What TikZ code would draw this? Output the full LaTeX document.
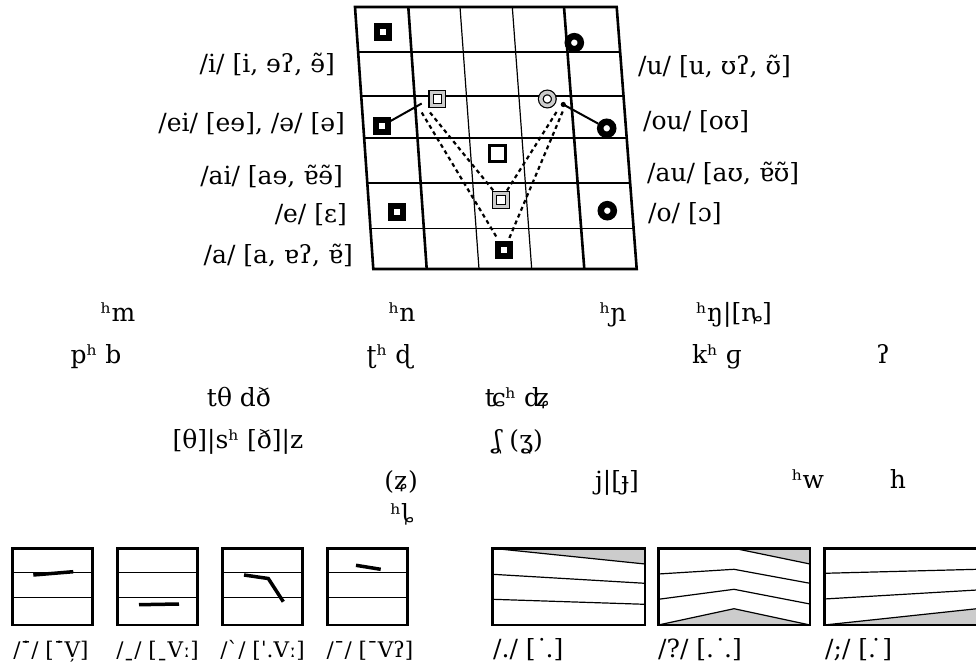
\documentclass[tikz,border=0pt]{standalone}
\usepackage{fontspec}
\setmainfont{DejaVu Serif}
\usetikzlibrary{calc}
\usetikzlibrary{positioning}

\definecolor{greyfill}{gray}{0.8}

\begin{document}
\begin{tikzpicture}[x=1pt, y=-1pt,
    thickline/.style={line width=2.6pt},
    thinline/.style={line width=1.2pt},
    blacksq/.style={rectangle, draw=black, line width=6pt, fill=white, minimum size=12pt, inner sep=0pt},
    ringmark/.style={circle, draw=black, line width=6.5pt, fill=white, minimum size=13pt, inner sep=0pt},
    greysq/.style={rectangle, draw=black, line width=1.2pt, double=greyfill, double distance=3pt, fill=white, minimum size=12.5pt, inner sep=0pt},
    greyring/.style={circle, draw=black, line width=1.2pt, double=greyfill, double distance=3.5pt, fill=white, minimum size=13pt, inner sep=0pt},
    opensq/.style={rectangle, draw=black, line width=2.5pt, fill=white, minimum size=16pt, inner sep=0pt},
    link/.style={line width=2pt},
    dashlink/.style={line width=2.2pt, dash pattern=on 4pt off 3.4pt, shorten >=3pt},
    tonestroke/.style={line width=3.5pt},
    boxline/.style={line width=2.5pt},
    lbl/.style={font=\fontsize{25}{30}\selectfont, inner sep=0pt},
    tonelbl/.style={font=\fontsize{21.5}{26}\selectfont, inner sep=0pt}]
                        \useasboundingbox (0,0) rectangle (976,668);
                        % Vowel chart frame
                        \coordinate (TL) at (355,7);
                        \coordinate (TR) at (616.7,7);
                        \coordinate (BL) at (373.3,269);
                        \coordinate (BR) at (636.7,269);
                        % Columns of the chart
                        \foreach \xt/\xb/\s in {
                              408.3/426.7/thickline,
                              460/479/thinline,
                              512.3/531.7/thinline,
                              564/584.3/thickline} {
                            \draw[\s] (\xt,7) -- (\xb,269);
                        }
                        % Rows of the chart
                        \foreach \f/\s in {
                              0.172/thinline,
                              0.34/thickline,
                              0.5/thinline,
                              0.672/thickline,
                              0.844/thinline} {
                            \draw[\s] ($(TL)!\f!(BL)$) -- ($(TR)!\f!(BR)$);
                        }
                        \draw[thickline] (TL) -- (TR) -- (BR) -- (BL) -- cycle;
                        % Connectors (drawn under the markers)
                        \coordinate (eiEnd) at (421.7,103.5);
                        \coordinate (ouEnd) at (563.3,104.5);
                        \coordinate (lOut) at (421.7,112.5);
                        \coordinate (lIn) at (430,112.5);
                        \coordinate (rIn) at (556.5,112);
                        \coordinate (rOut) at (562.7,111.5);
                        % Vowel markers
                        \node[blacksq] (iSq) at (382.7,31.7) {};
                        \node[ringmark] (uRing) at (574.3,42.7) {};
                        \node[greysq] (eiGrey) at (437.3,99) {};
                        \node[greyring] (ouGrey) at (547.3,99) {};
                        \node[blacksq] (eiSq) at (381.7,126) {};
                        \node[ringmark] (ouRing) at (606.7,128.3) {};
                        \node[opensq] (schwaSq) at (497.3,153.3) {};
                        \node[greysq] (aiGrey) at (501,200) {};
                        \node[blacksq] (eSq) at (396.7,211.7) {};
                        \node[ringmark] (oRing) at (607.3,210.7) {};
                        \node[blacksq] (aSq) at (504.3,250) {};
                        % Glides to the diphthong targets
                        \draw[link] (eiSq) -- (eiEnd);
                        \draw[link] (ouRing) -- (ouEnd);
                        \fill (ouEnd) circle (2.6);
                        \draw[dashlink] (lIn) -- (aiGrey);
                        \draw[dashlink] (rIn) -- (aiGrey);
                        \draw[dashlink] (lOut) -- (aSq);
                        \draw[dashlink] (rOut) -- (aSq);
                        % Vowel labels, left side
                        \node[lbl, anchor=base east] (lblI) at (335,72.3) {/i/ [i, ɘʔ, ɘ̃]};
                        \node[lbl, anchor=base east] (lblEI) at (345,131.7) {/ei/ [eɘ], /ə/ [ə]};
                        \node[lbl, anchor=base east] (lblAI) at (343,185) {/ai/ [aɘ, ɐ̃ɘ̃]};
                        \node[lbl, anchor=base east] (lblE) at (347,223) {/e/ [ɛ]};
                        \node[lbl, anchor=base east] (lblA) at (353,263) {/a/ [a, ɐʔ, ɐ̃]};
                        % Vowel labels, right side
                        \node[lbl, anchor=base west] (lblU) at (638,75) {/u/ [u, ʊʔ, ʊ̃]};
                        \node[lbl, anchor=base west] (lblOU) at (643,130) {/ou/ [oʊ]};
                        \node[lbl, anchor=base west] (lblAU) at (647,181.7) {/au/ [aʊ, ɐ̃ʊ̃]};
                        \node[lbl, anchor=base west] (lblO) at (648,221.7) {/o/ [ɔ]};
                        % Consonants
                        \foreach \n/\x/\y/\t in {
                              cM/118/321.7/ʰm,
                              cN/402/321.7/ʰn,
                              cNy/613/321.7/ʰɲ,
                              cNg/734/321.7/ʰŋ|[ȵ],
                              cP/96/363.5/pʰ b,
                              cT/389/363.5/ʈʰ ɖ,
                              cK/717/363.5/kʰ ɡ,
                              cQ/883/363.5/ʔ,
                              cTh/239/406.7/tθ dð,
                              cTc/517/406.7/ʨʰ ʥ,
                              cS/238/448/[θ]|sʰ [ð]|z,
                              cSh/518/448/ʆ (ʓ),
                              cZ/401/489.5/(ʑ),
                              cJ/617/489.5/j|[ɟ],
                              cW/808/488/ʰw,
                              cH/898/488/h,
                              cL/402/522/ʰȴ} {
                            \node[lbl, anchor=base] (\n) at (\x,\y) {\t};
                        }
                        % Tone boxes
                        \foreach \i in {0,...,3} {
                            \draw[thinline] (12.7+105*\i,572.7) -- ++(79.6,0);
                            \draw[thinline] (12.7+105*\i,597.3) -- ++(79.6,0);
                            \draw[boxline] (12.7+105*\i,548.3) rectangle ++(79.6,76.7);
                        }
                        \draw[tonestroke] (33.3,575) -- (73.3,571.7);
                        \draw[tonestroke] (139,604.7) -- (179,604);
                        \draw[tonestroke] (244,575) -- (268.3,578.5) -- (283.3,601.7);
                        \draw[tonestroke] (356,565.3) -- (380.7,569.3);
                        \node[tonelbl, anchor=base] (toneA) at (51,657) {/˙̄/ [˙̄V̦]};
                        \node[tonelbl, anchor=base] (toneB) at (157.5,657) {/ˍ/ [ˍVː]};
                        \node[tonelbl, anchor=base] (toneC) at (262.5,657) {/ˋ/ [ˈ.Vː]};
                        \node[tonelbl, anchor=base] (toneD) at (370,657) {/ˉ/ [ˉVʔ]};
                        % Intonation boxes
                        \fill[greyfill] (492.7,548.3) -- (645,548.3) -- (645,564) -- cycle;
                        \draw[thinline] (492.7,548.3) -- (645,564);
                        \draw[thinline] (492.7,574.3) -- (645,583.3);
                        \draw[thinline] (492.7,599.3) -- (645,604.3);
                        \draw[boxline] (492.7,548.3) rectangle (645,625);
                        \fill[greyfill] (734,548.3) -- (810,548.3) -- (810,564) -- cycle;
                        \fill[greyfill] (658.3,625) -- (734,608.7) -- (810,625) -- cycle;
                        \draw[thinline] (734,548.3) -- (810,564);
                        \draw[thinline] (658.3,574) -- (734,569.3) -- (810,583.3);
                        \draw[thinline] (658.3,599.3) -- (734,589.3) -- (810,604);
                        \draw[thinline] (658.3,625) -- (734,608.7) -- (810,625);
                        \draw[boxline] (658.3,548.3) rectangle (810,625);
                        \fill[greyfill] (824.3,625) -- (977,608.7) -- (977,625) -- cycle;
                        \draw[thinline] (824.3,573.3) -- (977,569.3);
                        \draw[thinline] (824.3,599) -- (977,590);
                        \draw[thinline] (824.3,625) -- (977,608.7);
                        \draw[boxline] (824.3,548.3) rectangle (977,625);
                        \node[lbl, anchor=base west] (intA) at (493,657) {/./ [˙\kern-0.1em.]};
                        \node[lbl, anchor=base west] (intB) at (658,657) {/?/ [.˙\kern-0.1em.]};
                        \node[lbl, anchor=base west] (intC) at (825,657) {/;/ [.\kern-0.25em˙]};
                    \end{tikzpicture}
\end{document}
